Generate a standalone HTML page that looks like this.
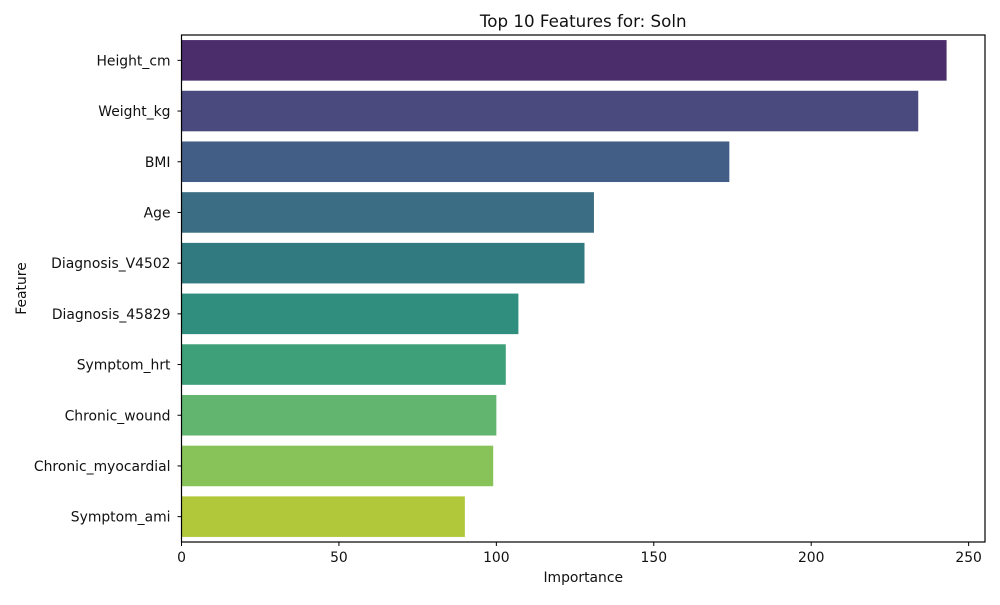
<!DOCTYPE html>
<html><head><meta charset="utf-8"><style>
body{margin:0;background:#fff;}
svg{font-family:"DejaVu Sans","Liberation Sans",sans-serif;}
</style></head><body>
<svg id="chart" width="1000" height="600"></svg>
<script>
const categories=["Height_cm","Weight_kg","BMI","Age","Diagnosis_V4502","Diagnosis_45829","Symptom_hrt","Chronic_wound","Chronic_myocardial","Symptom_ami"];
const importance=[243,234,174,131,128,107,103,100,99,90];
const colors=["#4b2d6b","#4b4a7e","#435e86","#3b6e84","#317b80","#2f8e7e","#3ea079","#61b56f","#88c35a","#b1c83b"];
const xTicks=[0,50,100,150,200,250];
const L=181.5,R=985,T=35,B=542,xMax=255.2;
const ns="http://www.w3.org/2000/svg";
const svg=document.getElementById('chart');
const x=v=>L+v/xMax*(R-L);
const band=(B-T)/categories.length;
const y=i=>T+band*i;
function mk(t,a,txt){const e=document.createElementNS(ns,t);for(const k in a)e.setAttribute(k,a[k]);if(txt!=null)e.textContent=txt;svg.appendChild(e);return e;}
categories.forEach((c,i)=>{
 const r=mk('rect',{x:L,y:y(i)+band*0.1,width:x(importance[i])-L,height:band*0.8,fill:colors[i]});
 
 
 const cy=y(i)+band/2;
 mk('line',{x1:L-4,x2:L,y1:cy,y2:cy,stroke:'#000','stroke-width':1});
 const t=mk('text',{x:L-11,y:cy+5,'text-anchor':'end','font-size':13.9,fill:'#111'},c);
 
 
});
xTicks.forEach(v=>{
 mk('line',{x1:x(v),x2:x(v),y1:B,y2:B+4,stroke:'#000','stroke-width':1});
 const t=mk('text',{x:x(v),y:B+20,'text-anchor':'middle','font-size':13.9,fill:'#111'},v);
 
 
});
const f=mk('rect',{x:L,y:T,width:R-L,height:B-T,fill:'none',stroke:'#000','stroke-width':1.2});


const tt=mk('text',{x:(L+R)/2,y:27,'text-anchor':'middle','font-size':16.7,fill:'#111'},'Top 10 Features for: Soln');


const xt=mk('text',{x:(L+R)/2,y:582,'text-anchor':'middle','font-size':13.9,fill:'#111'},'Importance');


const yt=mk('text',{x:26,y:(T+B)/2,'text-anchor':'middle','font-size':13.9,fill:'#111',transform:`rotate(-90 26 ${(T+B)/2})`},'Feature');


</script>
</body></html>
